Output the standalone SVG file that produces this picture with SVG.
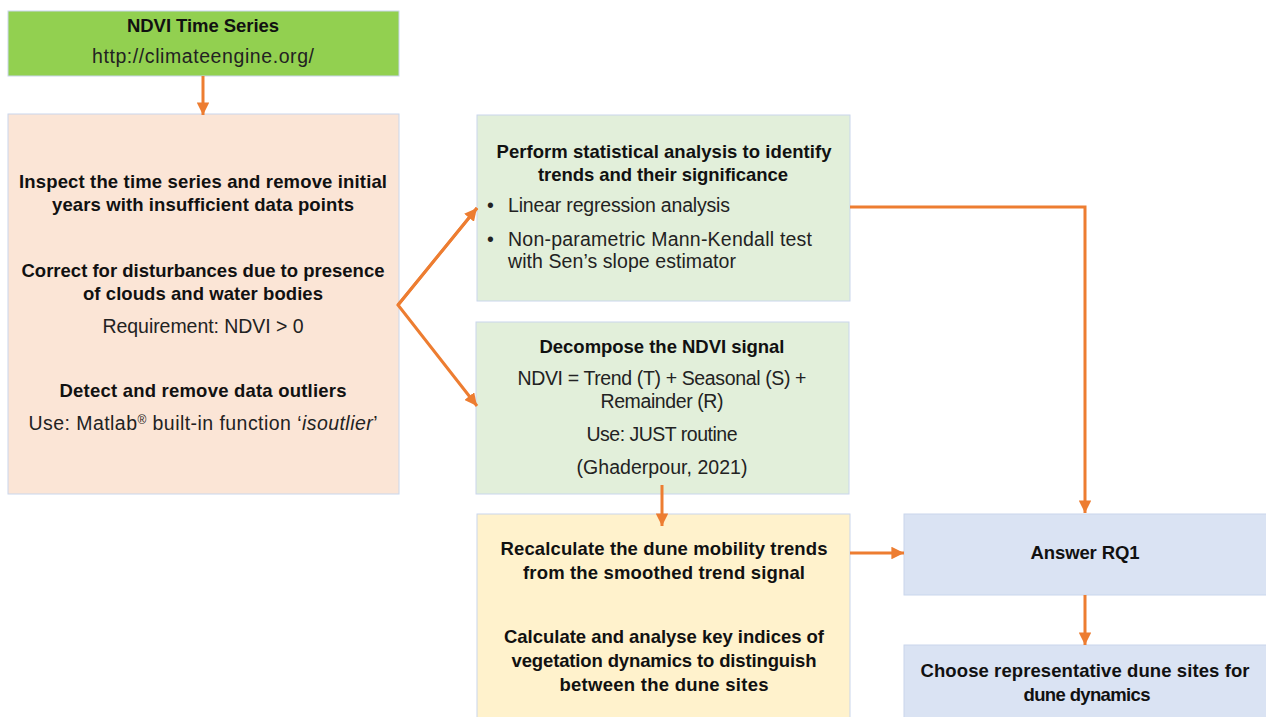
<svg xmlns="http://www.w3.org/2000/svg" width="1266" height="717" viewBox="0 0 1266 717">
<style>
.box{stroke:#c9d6ec;stroke-width:1}
.b{font-family:"Liberation Sans",Arial,sans-serif;font-weight:bold;font-size:18.5px;fill:#111;text-anchor:middle}
.r{font-family:"Liberation Sans",Arial,sans-serif;font-size:19.5px;fill:#222;text-anchor:middle}
.rl{font-family:"Liberation Sans",Arial,sans-serif;font-size:19.5px;fill:#222}
.c{fill:none;stroke:#ed7d31;stroke-width:3}
</style>
<defs>
<marker id="ah" viewBox="0 0 10 10" refX="10" refY="5" markerWidth="4.2" markerHeight="4.2" orient="auto" markerUnits="strokeWidth">
<path d="M0,0 L10,5 L0,10 z" fill="#ed7d31"/>
</marker>
</defs>
<rect width="1266" height="717" fill="#ffffff"/>

<g id="ndvi">
<rect class="box" x="8" y="11" width="391" height="65" fill="#92d050"/>
<text class="b" x="203" y="32" textLength="152">NDVI Time Series</text>
<text class="r" x="203" y="63" textLength="222">http://climateengine.org/</text>
</g>

<g id="preprocess">
<rect class="box" x="8" y="114" width="391" height="380" fill="#fbe5d6"/>
<text class="b" x="203" y="188" textLength="368">Inspect the time series and remove initial</text>
<text class="b" x="203" y="211" textLength="302">years with insufficient data points</text>
<text class="b" x="203" y="277" textLength="363">Correct for disturbances  due to presence</text>
<text class="b" x="203" y="300" textLength="240">of clouds and water bodies</text>
<text class="r" x="203" y="333" textLength="201">Requirement:  NDVI &gt; 0</text>
<text class="b" x="203" y="397" textLength="287">Detect and remove data outliers</text>
<text class="r" x="203" y="430" textLength="349">Use: Matlab<tspan font-size="12" dy="-6">®</tspan><tspan dy="6"> built-in function ‘</tspan><tspan font-style="italic">isoutlier</tspan>’</text>
</g>

<g id="stats">
<rect class="box" x="477" y="115" width="373" height="186" fill="#e2efda"/>
<text class="b" x="664" y="158" textLength="335">Perform statistical analysis to identify</text>
<text class="b" x="663" y="181" textLength="250">trends and their significance</text>
<text class="rl" x="487" y="212">•</text>
<text class="rl" x="508" y="212" textLength="222">Linear regression  analysis</text>
<text class="rl" x="487" y="246">•</text>
<text class="rl" x="508" y="246" textLength="304">Non-parametric Mann-Kendall test</text>
<text class="rl" x="508" y="268" textLength="228">with Sen’s slope estimator</text>
</g>

<g id="decompose">
<rect class="box" x="476" y="322" width="373" height="172" fill="#e2efda"/>
<text class="b" x="662" y="353" textLength="245">Decompose the NDVI signal</text>
<text class="r" x="662" y="385" textLength="289">NDVI = Trend (T) + Seasonal  (S)  +</text>
<text class="r" x="662" y="408" textLength="123">Remainder  (R)</text>
<text class="r" x="662" y="441" textLength="151">Use: JUST routine</text>
<text class="r" x="662" y="474" textLength="171">(Ghaderpour,  2021)</text>
</g>

<g id="recalc">
<rect class="box" x="477" y="514" width="373" height="210" fill="#fff2cc"/>
<text class="b" x="664" y="555" textLength="327">Recalculate the dune mobility trends</text>
<text class="b" x="664" y="579" textLength="282">from the smoothed  trend signal</text>
<text class="b" x="664" y="643" textLength="320">Calculate and analyse key indices of</text>
<text class="b" x="664" y="667" textLength="305">vegetation dynamics to distinguish</text>
<text class="b" x="664" y="691" textLength="209">between the dune sites</text>
</g>

<g id="rq1">
<rect class="box" x="904" y="514" width="370" height="81" fill="#dae3f3"/>
<text class="b" x="1085" y="559" textLength="109">Answer RQ1</text>
</g>

<g id="choose">
<rect class="box" x="904" y="645" width="370" height="80" fill="#dae3f3"/>
<text class="b" x="1085" y="677" textLength="329">Choose  representative dune sites for</text>
<text class="b" x="1087" y="701" textLength="127">dune dynamics</text>
</g>

<g id="connectors">
<line class="c" x1="203" y1="76" x2="203" y2="115" marker-end="url(#ah)"/>
<polyline class="c" points="477,208 398,305 477,406" marker-end="url(#ah)"/>
<line class="c" x1="398" y1="305" x2="477" y2="208" marker-end="url(#ah)"/>
<polyline class="c" points="850,207 1085,207 1085,513" marker-end="url(#ah)"/>
<line class="c" x1="662" y1="485" x2="662" y2="526" marker-end="url(#ah)"/>
<line class="c" x1="850" y1="553" x2="904" y2="553" marker-end="url(#ah)"/>
<line class="c" x1="1085" y1="595" x2="1085" y2="645" marker-end="url(#ah)"/>
</g>
</svg>
